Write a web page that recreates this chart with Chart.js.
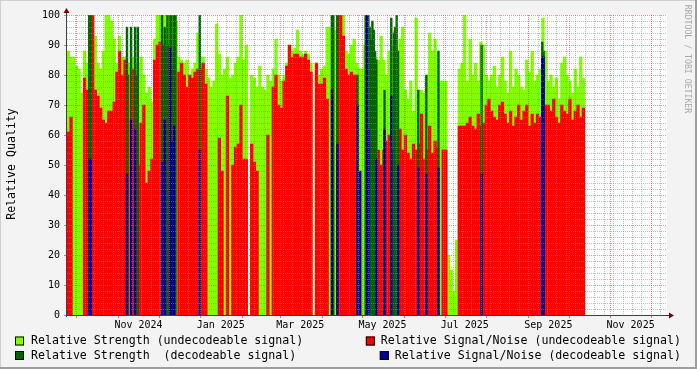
<!DOCTYPE html>
<html>
<head>
<meta charset="utf-8">
<script src="https://cdn.jsdelivr.net/npm/chart.js@4.4.1/dist/chart.umd.min.js"></script>
<style>
  html, body { margin: 0; padding: 0; background: #f3f3f3; }
  canvas { display: block; }
</style>
</head>
<body>
<canvas id="qualityChart" width="697" height="369"></canvas>
<script>
// undecodeable values: one column every 2 days, first column starts on 24 Sep 2024
// decodeable values: single days (day number counted from the same start)
const startDate = Date.UTC(2024, 8, 24);
const stepDays = 2;
const rangeDays = 445;

const strengthUndecodeable = [
  88, 86, 86, 83, 82, 74, 88, 84, 100, 100,
  93, 84, 82, 88, 100, 100, 98, 92, 84, 93,
  86, 86, 84, 84, 86, 84, 84, 86, 80, 74,
  76, 71, 92, 100, 100, 100, 100, 100, 100, 100,
  98, 86, 85, 84, 85, 80, 82, 84, 94, 86,
  86, 82, 79, 76, 78, 97, 87, 80, 82, 86,
  79, 80, 84, 86, 100, 85, 90, null, 80, 79,
  76, 83, 76, 75, 80, 78, 82, 92, 80, 78,
  80, 84, 90, 88, 89, 95, 88, 87, 88, 87,
  84, null, 84, 80, 82, 83, 96, 96, 100, 95,
  100, 100, 100, 88, 87, 90, 92, 84, 82, 82,
  90, 90, 92, 88, 86, 85, 93, 85, 80, 88,
  90, 95, 88, 92, 96, 75, 72, 78, 68, 99,
  75, 75, 74, 80, 94, 88, 92, 88, 78, 78,
  78, 20, 15, 8, 25, 82, 84, 100, 78, 92,
  80, 84, 78, 91, 90, 80, 78, 80, 83, 76,
  80, 86, 78, 74, 88, 76, 82, 80, 76, 75,
  85, 81, 88, 78, 80, 82, 99, 88, 78, 80,
  76, 79, 72, 84, 86, 80, 78, 74, 82, 76,
  86, 79
];

const snrUndecodeable = [
  61, 66, null, null, null, null, 79, 75, 75, 100,
  75, 73, 69, 65, 64, 68, 68, 71, 81, 88,
  80, 85, 80, null, 82, 80, 50, 64, 70, 44,
  48, 52, 85, 90, 91, 90, 88, 90, 88, 82,
  null, 81, 84, 80, 76, 80, 79, 81, 82, 82,
  84, 77, null, null, null, null, 59, 48, null, 73,
  null, 50, 56, 57, 70, 52, 52, null, 57, 51,
  48, null, null, null, 60, null, 76, 80, 70, 69,
  78, 83, 90, 86, 87, 87, 86, 86, 87, 85,
  81, null, 84, 77, 77, 79, 72, null, null, null,
  100, 100, 93, 82, 80, 81, 80, 80, null, null,
  null, null, 50, 55, 52, 55, 50, 55, 58, 60,
  55, 58, 52, 62, 55, 60, 54, 52, 57, 55,
  57, 67, 52, 55, 63, 54, 58, 56, null, 55,
  55, null, null, null, null, 63, 63, 63, 64, 66,
  63, 62, 67, 63, 64, 70, 72, 68, 66, 65,
  70, 71, 67, 64, 68, 63, 66, 70, 65, 68,
  70, 63, 67, 64, 67, 66, 68, 70, 70, 68,
  72, 66, 64, 70, 68, 67, 72, 65, 68, 70,
  66, 69
];

// days on which the signal could be decoded
const decodeableDays = [
  16, 17, 44, 47, 50, 52, 70, 72, 74, 76,
  77, 79, 80, 98, 196, 197, 200, 215, 217, 221,
  222, 223, 224, 225, 226, 227, 228, 229, 235, 240,
  242, 243, 244, 245, 260, 266, 275, 307, 352, 353
];
const strengthDecodeable = [
  100, 100, 96, 96, 96, 96, 100, 96, 100, 100,
  100, 100, 100, 100, 100, 100, 100, 80, null, 100,
  100, 100, 96, 92, 98, 95, 88, 85, 75, 99,
  94, 96, 100, 88, 75, 80, 88, 90, 91, 88
];
const snrDecodeable = [
  52, 52, 47, 65, 62, null, 51, 65, null, 89,
  58, 63, null, 55, 75, null, 57, 70, 48, null,
  100, 62, null, null, null, null, null, 52, 62, 73,
  null, null, null, 50, 49, 47, 49, 47, 86, 86
];

const yTickValues = [0, 10, 20, 30, 40, 50, 60, 70, 80, 90, 100];
const xTickLabels = ["Nov 2024", "Jan 2025", "Mar 2025", "May 2025", "Jul 2025", "Sep 2025", "Nov 2025"];
// rrdtool puts a month label half a month after the month start
const xTickDates = ["2024-11-16", "2025-01-16", "2025-03-16", "2025-05-16", "2025-07-16", "2025-09-16", "2025-11-16"];

const legendItems = [
  { text: "Relative Strength (undecodeable signal)", color: "#80ff00", col: 0, row: 0 },
  { text: "Relative Signal/Noise (undecodeable signal)", color: "#ff0000", col: 1, row: 0 },
  { text: "Relative Strength  (decodeable signal)", color: "#006400", col: 0, row: 1 },
  { text: "Relative Signal/Noise (decodeable signal)", color: "#000099", col: 1, row: 1 },
];

const MONO = "'DejaVu Sans Mono', monospace";

function dayOf(y, m, d) {
  return (Date.UTC(y, m, d) - startDate) / 86400000;
}

function columnPoints(values) {
  return values.map((v, i) => ({ x: i * stepDays + stepDays / 2, y: v }));
}

function dayPoints(days, values) {
  return days.map((d, k) => ({ x: d + 0.5, y: values[k] }));
}

const rrdDecor = {
  id: "rrdDecor",
  beforeDraw(chart) {
    const ctx = chart.ctx;
    const { left, top, right, bottom } = chart.chartArea;
    const w = chart.width, h = chart.height;
    ctx.save();
    ctx.fillStyle = "#f3f3f3";
    ctx.fillRect(0, 0, w, h);
    // 3d frame
    ctx.fillStyle = "#cfcfcf";
    ctx.fillRect(0, 0, w, 1);
    ctx.fillRect(0, 0, 1, h);
    ctx.fillStyle = "#9e9e9e";
    ctx.fillRect(0, h - 2, w, 2);
    ctx.fillRect(w - 2, 0, 2, h);
    ctx.fillStyle = "#ffffff";
    ctx.fillRect(left, top, right - left, bottom - top);
    ctx.restore();
  },
  afterDatasetsDraw(chart) {
    const ctx = chart.ctx;
    const xs = chart.scales.x, ys = chart.scales.y;
    const { left, top, right, bottom } = chart.chartArea;
    const minorCol = "rgba(140,140,140,0.55)";
    const majorCol = "rgba(222,80,80,0.6)";
    ctx.save();
    ctx.lineWidth = 1;
    ctx.setLineDash([1, 1]);

    // minor grid
    ctx.strokeStyle = minorCol;
    ctx.beginPath();
    for (let d = dayOf(2024, 8, 30); d <= rangeDays; d += 7) {
      const px = Math.round(xs.getPixelForValue(d)) + 0.5;
      ctx.moveTo(px, top);
      ctx.lineTo(px, bottom);
    }
    for (let v = 2; v < 100; v += 2) {
      if (v % 10 === 0) continue;
      const py = Math.round(ys.getPixelForValue(v)) + 0.5;
      ctx.moveTo(left, py);
      ctx.lineTo(right, py);
    }
    ctx.stroke();

    // major grid
    const monthDays = [];
    for (let k = 0; k < 15; k++) {
      monthDays.push(dayOf(2024, 9 + k, 1));
    }
    ctx.strokeStyle = majorCol;
    ctx.beginPath();
    monthDays.forEach((d) => {
      const px = Math.round(xs.getPixelForValue(d)) + 0.5;
      ctx.moveTo(px, top);
      ctx.lineTo(px, bottom);
    });
    yTickValues.forEach((v) => {
      if (v === 0) return;
      const py = Math.round(ys.getPixelForValue(v)) + 0.5;
      ctx.moveTo(left, py);
      ctx.lineTo(right, py);
    });
    ctx.stroke();
    ctx.setLineDash([]);

    // tick marks outside the axes
    ctx.strokeStyle = "rgba(222,80,80,0.8)";
    ctx.beginPath();
    monthDays.forEach((d) => {
      const px = Math.round(xs.getPixelForValue(d)) + 0.5;
      ctx.moveTo(px, bottom);
      ctx.lineTo(px, bottom + 3);
    });
    yTickValues.forEach((v) => {
      const py = Math.round(ys.getPixelForValue(v)) + 0.5;
      ctx.moveTo(left - 3, py);
      ctx.lineTo(left, py);
    });
    ctx.stroke();

    // axes
    const ax = Math.round(left) - 0.5;
    const ay = Math.round(bottom) + 0.5;
    ctx.strokeStyle = "#404040";
    ctx.beginPath();
    ctx.moveTo(left - 1, ay);
    ctx.lineTo(right + 4, ay);
    ctx.moveTo(ax, bottom + 2);
    ctx.lineTo(ax, top - 4);
    ctx.stroke();
    ctx.fillStyle = "#7f0000";
    ctx.beginPath();
    ctx.moveTo(right + 7, ay);
    ctx.lineTo(right + 2, ay - 3);
    ctx.lineTo(right + 2, ay + 3);
    ctx.closePath();
    ctx.fill();
    ctx.beginPath();
    ctx.moveTo(ax, top - 7);
    ctx.lineTo(ax - 3, top - 2);
    ctx.lineTo(ax + 3, top - 2);
    ctx.closePath();
    ctx.fill();

    // y tick labels
    ctx.fillStyle = "#000";
    ctx.font = "10px " + MONO;
    ctx.textAlign = "right";
    ctx.textBaseline = "middle";
    yTickValues.forEach((v) => {
      ctx.fillText(String(v), left - 7, ys.getPixelForValue(v));
    });

    // x tick labels
    ctx.textAlign = "center";
    xTickLabels.forEach((lab, k) => {
      const p = xTickDates[k].split("-").map(Number);
      const px = xs.getPixelForValue(dayOf(p[0], p[1] - 1, p[2]));
      ctx.fillText(lab, px, bottom + 10);
    });

    // y title
    ctx.save();
    ctx.translate(12, 164);
    ctx.rotate(-Math.PI / 2);
    ctx.font = "11.6px " + MONO;
    ctx.textAlign = "center";
    ctx.fillText("Relative Quality", 0, 0);
    ctx.restore();

    // legend
    ctx.font = "11.6px " + MONO;
    ctx.textBaseline = "middle";
    legendItems.forEach((it) => {
      const cy = 341 + it.row * 14.5;
      let tx, bx;
      const tw = ctx.measureText(it.text).width;
      if (it.col === 0) {
        bx = 15;
        tx = 31;
      } else {
        tx = 681 - tw;
        bx = tx - 15;
      }
      ctx.fillStyle = it.color;
      ctx.fillRect(bx, cy - 4.5, 9, 9);
      ctx.strokeStyle = "#000";
      ctx.lineWidth = 1;
      ctx.strokeRect(bx + 0.5, cy - 4.5 + 0.5, 8, 8);
      ctx.fillStyle = "#000";
      ctx.textAlign = "left";
      ctx.fillText(it.text, tx, cy);
    });

    // watermark
    ctx.save();
    ctx.translate(687, 59);
    ctx.rotate(Math.PI / 2);
    ctx.font = "8.2px " + MONO;
    ctx.fillStyle = "#a8a8a8";
    ctx.textAlign = "center";
    ctx.textBaseline = "middle";
    ctx.fillText("RRDTOOL / TOBI OETIKER", 0, 0);
    ctx.restore();

    ctx.restore();
  },
};

// the smallest x spacing is half a day, so 4 = two-day columns, 3 = a day and a half
const columnBar = { grouped: false, barPercentage: 4, categoryPercentage: 1, borderWidth: 0, inflateAmount: 0.3 };
const dayBar = { grouped: false, barPercentage: 3, categoryPercentage: 1, borderWidth: 0, inflateAmount: 0.2 };

new Chart(document.getElementById("qualityChart"), {
  type: "bar",
  data: {
    datasets: [
      Object.assign({ label: "Relative Strength (undecodeable signal)", data: columnPoints(strengthUndecodeable), backgroundColor: "#80ff00", order: 4 }, columnBar),
      Object.assign({ label: "Relative Signal/Noise (undecodeable signal)", data: columnPoints(snrUndecodeable), backgroundColor: "#ff0000", order: 3 }, columnBar),
      Object.assign({ label: "Relative Strength (decodeable signal)", data: dayPoints(decodeableDays, strengthDecodeable), backgroundColor: "#006400", order: 2 }, dayBar),
      Object.assign({ label: "Relative Signal/Noise (decodeable signal)", data: dayPoints(decodeableDays, snrDecodeable), backgroundColor: "#000099", order: 1 }, dayBar),
    ],
  },
  options: {
    responsive: false,
    devicePixelRatio: 1,
    animation: false,
    layout: { padding: { left: 67, top: 15, right: 30, bottom: 54 } },
    scales: {
      x: { type: "linear", min: 0, max: rangeDays, offset: false, display: false },
      y: { min: 0, max: 100, display: false },
    },
    plugins: {
      legend: { display: false },
      tooltip: { enabled: false },
    },
  },
  plugins: [rrdDecor],
});
</script>
</body>
</html>
